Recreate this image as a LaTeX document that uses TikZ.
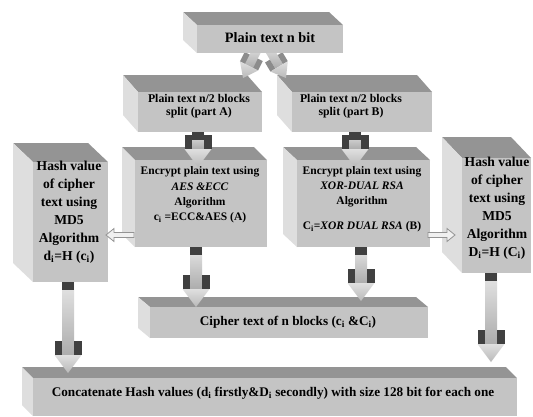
\documentclass[tikz,border=0pt]{standalone}
\usepackage{fontspec}
\setmainfont{Liberation Serif}
\usetikzlibrary{calc}
\definecolor{frontc}{gray}{0.77}
\definecolor{topc}{gray}{0.58}
\definecolor{sidec}{gray}{0.87}
\definecolor{capc}{gray}{0.25}
\definecolor{wingg}{gray}{0.55}
\makeatletter
\newdimen\baX \newdimen\baY
% block arrow: #1 from, #2 to, #3 scale, #4 cap length (pt), #5 wing colour
\newcommand\barrow[5]{%
  \pgfmathanglebetweenpoints{\pgfpointanchor{#1}{center}}{\pgfpointanchor{#2}{center}}%
  \edef\baang{\pgfmathresult}%
  \pgfpointdiff{\pgfpointanchor{#1}{center}}{\pgfpointanchor{#2}{center}}%
  \baX=\pgf@x \baY=\pgf@y
  \pgfmathsetmacro\balen{veclen(\baX,\baY)}%
  \pgfmathsetmacro\bw{6*#3}%
  \pgfmathsetmacro\bh{13.5*#3}%
  \pgfmathsetmacro\bhb{\balen-18*#3}%
  \pgfmathsetmacro\bwb{\bhb-14*#3}%
  \begin{scope}[shift={(#1)},rotate=\baang]
    \shade[top color=gray!20, middle color=white!92!gray, bottom color=gray!65]
      (0pt,-\bw pt) rectangle (\bhb pt,\bw pt);
    \fill[capc] (0pt,-\bw pt) rectangle (#4pt,\bw pt);
    \fill[#5] (\bwb pt,\bw pt) rectangle (\bhb pt,\bh pt);
    \fill[#5] (\bwb pt,-\bw pt) rectangle (\bhb pt,-\bh pt);
    \shade[top color=gray!25, middle color=gray!10, bottom color=gray!55]
      (\bhb pt,-\bh pt) -- (\balen pt,0pt) -- (\bhb pt,\bh pt) -- cycle;
  \end{scope}}
% hollow arrow
\newcommand\harrow[2]{%
  \pgfmathanglebetweenpoints{\pgfpointanchor{#1}{center}}{\pgfpointanchor{#2}{center}}%
  \edef\baang{\pgfmathresult}%
  \pgfpointdiff{\pgfpointanchor{#1}{center}}{\pgfpointanchor{#2}{center}}%
  \baX=\pgf@x \baY=\pgf@y
  \pgfmathsetmacro\balen{veclen(\baX,\baY)}%
  \pgfmathsetmacro\bhb{\balen-8}%
  \begin{scope}[shift={(#1)},rotate=\baang]
    \filldraw[fill=gray!12, draw=gray!85, line width=0.8pt]
      (0pt,-2.5pt) -- (\bhb pt,-2.5pt) -- (\bhb pt,-6.5pt) -- (\balen pt,0pt)
      -- (\bhb pt,6.5pt) -- (\bhb pt,2.5pt) -- (0pt,2.5pt) -- cycle;
  \end{scope}}
\makeatother
% 3D box: front (x1,y1)-(x2,y2), depth (dx,dy) to upper left
\newcommand\boxthreed[6]{%
  \fill[topc] (#1,#2) -- ({#1-#5},{#2-#6}) -- ({#3-#5},{#2-#6}) -- (#3,#2) -- cycle;
  \fill[sidec] (#1,#2) -- ({#1-#5},{#2-#6}) -- ({#1-#5},{#4-#6}) -- (#1,#4) -- cycle;
  \fill[frontc] (#1,#2) rectangle (#3,#4);}
\begin{document}
\begin{tikzpicture}[x=1pt,y=-1pt,
  lbl/.style={align=center, inner sep=0pt, text=black},
  fsmall/.style={font=\fontsize{11.8}{13.5}\selectfont\bfseries},
  fmid/.style={font=\fontsize{11.5}{15.3}\selectfont\bfseries},
  fbig/.style={font=\fontsize{13.6}{18}\selectfont\bfseries},
  fline/.style={font=\fontsize{13.2}{15}\selectfont\bfseries},
  ftop/.style={font=\fontsize{14.3}{16}\selectfont\bfseries}]
\fill[white] (0,0) rectangle (533,416);
\useasboundingbox (0,0) rectangle (533,416);
% boxes
\boxthreed{197}{25}{343}{53}{14}{13}
\boxthreed{138}{92}{262}{132}{15}{17}
\boxthreed{292}{92}{432}{132}{15}{17}
\boxthreed{135}{160}{267}{247}{13}{13}
\boxthreed{297}{160}{430}{247}{14}{13}
\boxthreed{33}{162}{108}{282}{20}{19}
\boxthreed{462}{158}{531}{273}{20}{21}
\boxthreed{150}{307}{428}{338}{12}{10}
\boxthreed{33}{378}{517}{416}{11}{11}
% arrow end points
\coordinate (p1s) at (259,46);  \coordinate (p1e) at (243,78);
\coordinate (p2s) at (267,46);  \coordinate (p2e) at (286,78);
\coordinate (sAs) at (198,132); \coordinate (sAe) at (198,167);
\coordinate (sBs) at (355,132); \coordinate (sBe) at (355,167);
\coordinate (eAs) at (196,247); \coordinate (eAe) at (196,307);
\coordinate (eBs) at (361,247); \coordinate (eBe) at (361,301);
\coordinate (hLs) at (68,282);  \coordinate (hLe) at (68,373);
\coordinate (hRs) at (491,273); \coordinate (hRe) at (491,362);
\coordinate (lAs) at (134,235); \coordinate (lAe) at (106,235);
\coordinate (lBs) at (428,235); \coordinate (lBe) at (455,235);
% arrows
\barrow{p1s}{p1e}{0.75}{0}{wingg}
\barrow{p2s}{p2e}{0.75}{0}{wingg}
\fill[frontc] (197,36) rectangle (343,53);
\barrow{sAs}{sAe}{1}{8}{capc}
\barrow{sBs}{sBe}{1}{8}{capc}
\barrow{eAs}{eAe}{1}{8}{capc}
\barrow{eBs}{eBe}{1}{8}{capc}
\barrow{hLs}{hLe}{1}{8}{capc}
\barrow{hRs}{hRe}{1}{8}{capc}
\harrow{lAs}{lAe}
\harrow{lBs}{lBe}
% text nodes
\node[lbl,ftop] (plain) at (270,38) {Plain text n bit};
\node[lbl,fsmall] (splitA) at (199,106) {Plain text n/2 blocks\\split (part A)};
\node[lbl,fsmall] (splitB) at (351,106) {Plain text n/2 blocks\\split (part B)};
\node[lbl,fmid] (encA) at (200,195) {Encrypt plain text using\\\textit{AES \&ECC}\\Algorithm\\c\textsubscript{i} =ECC\&AES (A)};
\node[lbl,fmid] (encB) at (362,199) {Encrypt plain text using\\\textit{XOR-DUAL RSA}\\Algorithm\\[9pt]C\textsubscript{i}=\textit{XOR DUAL RSA} (B)};
\node[lbl,fbig] (hashL) at (69,212) {Hash value\\of cipher\\text using\\MD5\\Algorithm\\d\textsubscript{i}=H (c\textsubscript{i})};
\node[lbl,fbig] (hashR) at (497,208) {Hash value\\of cipher\\text using\\MD5\\Algorithm\\D\textsubscript{i}=H (C\textsubscript{i})};
\node[lbl,fline] (cipher) at (288,322) {Cipher text of n blocks (c\textsubscript{i} \&C\textsubscript{i})};
\node[lbl,fline] (concat) at (273,393) {Concatenate Hash values (d\textsubscript{i} firstly\&D\textsubscript{i} secondly) with size 128 bit for each one};
\end{tikzpicture}
\end{document}
